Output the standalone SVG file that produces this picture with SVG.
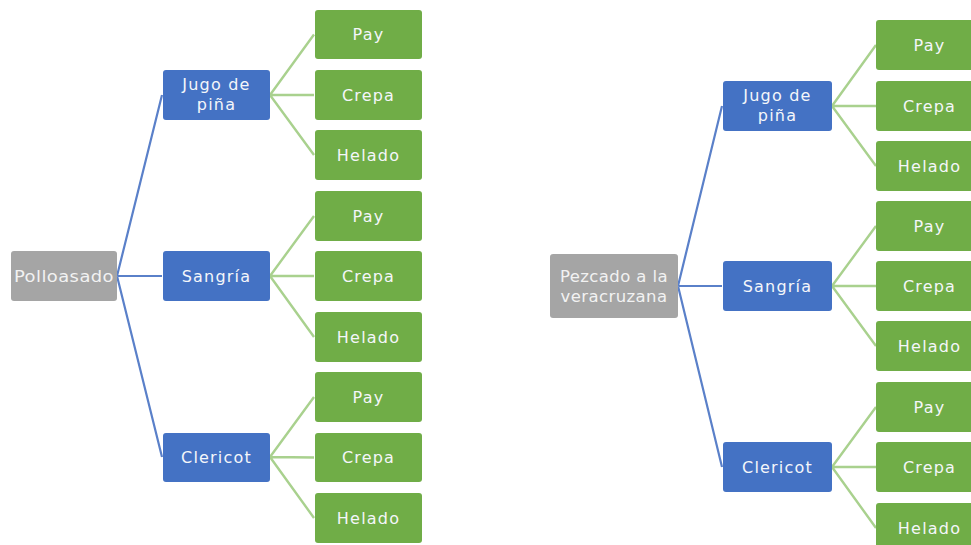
<svg xmlns="http://www.w3.org/2000/svg" width="971" height="545" viewBox="0 0 971 545">
  <style>
    .root { fill: #A5A5A5; }
    .drink { fill: #4472C4; }
    .dessert { fill: #70AD47; }
    .lbl { font-family: "DejaVu Sans", "Liberation Sans", sans-serif; font-size: 16px; fill: #F4F6FA; text-anchor: middle; dominant-baseline: central; letter-spacing: 1.2px; }
    .root-lbl { fill: #F2F2F2; font-size: 16.5px; letter-spacing: 0.4px; }
    .c1 { stroke: #5A80C9; stroke-width: 2.2; fill: none; }
    .c2 { stroke: #A9D18E; stroke-width: 2.4; fill: none; }
  </style>

  <!-- connectors -->
  <g id="connectors">
    <!-- tree 1: main dish to drinks -->
    <path class="c1" d="M117 276 L162 95 M117 276 L162 276 M117 276 L162 457"/>
    <!-- tree 1: drinks to desserts -->
    <path class="c2" d="M270 95 L314 34.5 M270 95 L314 95 M270 95 L314 155"/>
    <path class="c2" d="M270 276 L314 216 M270 276 L314 276 M270 276 L314 337"/>
    <path class="c2" d="M270 457 L314 397 M270 457 L314 457.5 M270 457 L314 518"/>
    <!-- tree 2: main dish to drinks -->
    <path class="c1" d="M678 286 L722 106 M678 286 L722 286 M678 286 L722 467"/>
    <!-- tree 2: drinks to desserts -->
    <path class="c2" d="M832 106 L876 45 M832 106 L876 106 M832 106 L876 166"/>
    <path class="c2" d="M832 286 L876 226 M832 286 L876 286 M832 286 L876 346"/>
    <path class="c2" d="M832 467 L876 407 M832 467 L876 467 M832 467 L876 528"/>
  </g>

  <!-- tree 1 -->
  <g id="pollo-asado">
    <rect class="root" x="11" y="251" width="106" height="50" rx="3"/>
    <text class="lbl root-lbl" x="64" y="276" textLength="100" lengthAdjust="spacingAndGlyphs">Polloasado</text>
  </g>
  <g id="t1-jugo">
    <rect class="drink" x="163" y="70" width="107" height="50" rx="3"/>
    <text class="lbl" x="216.5" y="84">Jugo de</text>
    <text class="lbl" x="216.5" y="104">piña</text>
  </g>
  <g id="t1-sangria">
    <rect class="drink" x="163" y="251" width="107" height="50" rx="3"/>
    <text class="lbl" x="216.5" y="276">Sangría</text>
  </g>
  <g id="t1-clericot">
    <rect class="drink" x="163" y="433" width="107" height="49" rx="3"/>
    <text class="lbl" x="216.5" y="457">Clericot</text>
  </g>

  <g id="t1-jugo-pay"><rect class="dessert" x="315" y="10" width="107" height="49" rx="3"/><text class="lbl" x="368.5" y="34">Pay</text></g>
  <g id="t1-jugo-crepa"><rect class="dessert" x="315" y="70" width="107" height="50" rx="3"/><text class="lbl" x="368.5" y="95">Crepa</text></g>
  <g id="t1-jugo-helado"><rect class="dessert" x="315" y="130" width="107" height="50" rx="3"/><text class="lbl" x="368.5" y="155">Helado</text></g>
  <g id="t1-sangria-pay"><rect class="dessert" x="315" y="191" width="107" height="50" rx="3"/><text class="lbl" x="368.5" y="216">Pay</text></g>
  <g id="t1-sangria-crepa"><rect class="dessert" x="315" y="251" width="107" height="50" rx="3"/><text class="lbl" x="368.5" y="276">Crepa</text></g>
  <g id="t1-sangria-helado"><rect class="dessert" x="315" y="312" width="107" height="50" rx="3"/><text class="lbl" x="368.5" y="337">Helado</text></g>
  <g id="t1-clericot-pay"><rect class="dessert" x="315" y="372" width="107" height="50" rx="3"/><text class="lbl" x="368.5" y="397">Pay</text></g>
  <g id="t1-clericot-crepa"><rect class="dessert" x="315" y="433" width="107" height="49" rx="3"/><text class="lbl" x="368.5" y="457.5">Crepa</text></g>
  <g id="t1-clericot-helado"><rect class="dessert" x="315" y="493" width="107" height="50" rx="3"/><text class="lbl" x="368.5" y="518">Helado</text></g>

  <!-- tree 2 -->
  <g id="pezcado-veracruzana">
    <rect class="root" x="550" y="254" width="128" height="64" rx="3"/>
    <text class="lbl root-lbl" x="614" y="276">Pezcado a la</text>
    <text class="lbl root-lbl" x="614" y="296">veracruzana</text>
  </g>
  <g id="t2-jugo">
    <rect class="drink" x="723" y="81" width="109" height="50" rx="3"/>
    <text class="lbl" x="777.5" y="95">Jugo de</text>
    <text class="lbl" x="777.5" y="115">piña</text>
  </g>
  <g id="t2-sangria">
    <rect class="drink" x="723" y="261" width="109" height="50" rx="3"/>
    <text class="lbl" x="777.5" y="286">Sangría</text>
  </g>
  <g id="t2-clericot">
    <rect class="drink" x="723" y="442" width="109" height="50" rx="3"/>
    <text class="lbl" x="777.5" y="467">Clericot</text>
  </g>

  <g id="t2-jugo-pay"><rect class="dessert" x="876" y="20" width="107" height="50" rx="3"/><text class="lbl" x="929.5" y="45">Pay</text></g>
  <g id="t2-jugo-crepa"><rect class="dessert" x="876" y="81" width="107" height="50" rx="3"/><text class="lbl" x="929.5" y="106">Crepa</text></g>
  <g id="t2-jugo-helado"><rect class="dessert" x="876" y="141" width="107" height="50" rx="3"/><text class="lbl" x="929.5" y="166">Helado</text></g>
  <g id="t2-sangria-pay"><rect class="dessert" x="876" y="201" width="107" height="50" rx="3"/><text class="lbl" x="929.5" y="226">Pay</text></g>
  <g id="t2-sangria-crepa"><rect class="dessert" x="876" y="261" width="107" height="50" rx="3"/><text class="lbl" x="929.5" y="286">Crepa</text></g>
  <g id="t2-sangria-helado"><rect class="dessert" x="876" y="321" width="107" height="50" rx="3"/><text class="lbl" x="929.5" y="346">Helado</text></g>
  <g id="t2-clericot-pay"><rect class="dessert" x="876" y="382" width="107" height="50" rx="3"/><text class="lbl" x="929.5" y="407">Pay</text></g>
  <g id="t2-clericot-crepa"><rect class="dessert" x="876" y="442" width="107" height="50" rx="3"/><text class="lbl" x="929.5" y="467">Crepa</text></g>
  <g id="t2-clericot-helado"><rect class="dessert" x="876" y="503" width="107" height="50" rx="3"/><text class="lbl" x="929.5" y="528">Helado</text></g>
</svg>
